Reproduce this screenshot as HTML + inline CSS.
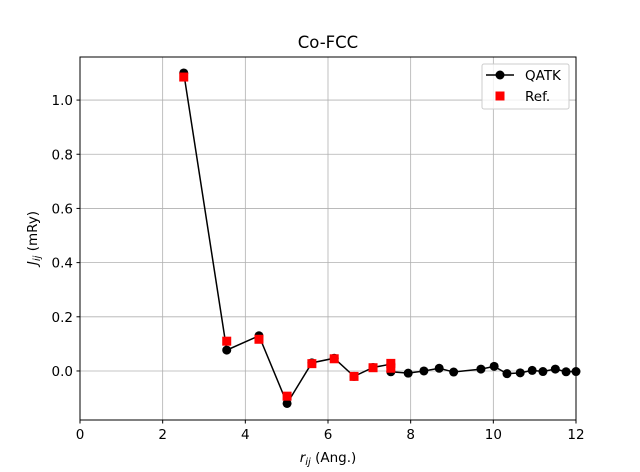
<!DOCTYPE html>
<html><head><meta charset="utf-8"><style>
body{margin:0;background:#fff;}
svg{display:block;font-family:"DejaVu Sans","Liberation Sans",sans-serif;}
</style></head><body>
<svg id="chart" width="640" height="472" viewBox="0 0 640 472">
<rect x="0" y="0" width="640" height="472" fill="#fff"/>
<text x="328" y="48" text-anchor="middle" font-size="16.5">Co-FCC</text>
<g id="grid"></g>
<g id="ticks"></g>
<g id="series"></g>
<rect x="80" y="57" width="496" height="363" fill="none" stroke="#000" stroke-width="1"/>
<text x="328" y="462" text-anchor="middle" font-size="13.5"><tspan font-style="italic">r</tspan><tspan font-style="italic" font-size="10" dy="3">ij</tspan><tspan dy="-3"> (Ang.)</tspan></text>
<text transform="translate(37,238) rotate(-90)" text-anchor="middle" font-size="13.5"><tspan font-style="italic">J</tspan><tspan font-style="italic" font-size="10" dy="3">ij</tspan><tspan dy="-3"> (mRy)</tspan></text>
<g>
<rect x="482" y="64" width="87" height="45" rx="2" fill="#fff" fill-opacity="0.8" stroke="#ccc"/>
<line x1="486" y1="75" x2="514" y2="75" stroke="#000" stroke-width="1.5"/>
<circle cx="500" cy="75" r="4.5" fill="#000"/>
<text x="525" y="80" font-size="13.5">QATK</text>
<rect x="495.5" y="91.5" width="9" height="9" fill="#f00"/>
<text x="525" y="101" font-size="13.5">Ref.</text>
</g>
</svg>
<script>
const qatkR = [2.51,3.55,4.33,5.01,5.61,6.15,6.63,7.09,7.52,7.52,7.94,8.32,8.69,9.04,9.70,10.02,10.33,10.65,10.94,11.20,11.50,11.76,12.00];
const qatkJ = [1.10,0.077,0.13,-0.12,0.03,0.047,-0.02,0.013,0.025,-0.003,-0.008,0.0,0.01,-0.004,0.007,0.017,-0.01,-0.007,0.002,-0.002,0.007,-0.003,-0.002];
const refR = [2.51,3.55,4.33,5.01,5.61,6.15,6.63,7.09,7.52,7.52];
const refJ = [1.085,0.11,0.117,-0.093,0.027,0.045,-0.02,0.012,0.028,0.01];
const xTicks = [0,2,4,6,8,10,12];
const yTicks = [0.0,0.2,0.4,0.6,0.8,1.0];
const yTickLabels = ["0.0","0.2","0.4","0.6","0.8","1.0"];
const NS="http://www.w3.org/2000/svg";
const X0=80,X1=576,XMIN=0,XMAX=12;
const YT=57,YB=420,YMIN=-0.181,YMAX=1.159;
function sx(v){return X0+(v-XMIN)/(XMAX-XMIN)*(X1-X0);}
function sy(v){return YB-(v-YMIN)/(YMAX-YMIN)*(YB-YT);}
function mk(t,a,p){const e=document.createElementNS(NS,t);for(const k in a)e.setAttribute(k,a[k]);p.appendChild(e);return e;}
const grid=document.getElementById('grid'),ticks=document.getElementById('ticks'),ser=document.getElementById('series');
xTicks.forEach(v=>{
 const g=mk('line',{x1:sx(v),x2:sx(v),y1:YT,y2:YB,stroke:'#b0b0b0','stroke-width':0.8},grid);
 
 
 mk('line',{x1:sx(v),x2:sx(v),y1:YB,y2:YB+3.5,stroke:'#000'},ticks);
 const t=mk('text',{x:sx(v),y:YB+19,'text-anchor':'middle','font-size':13.5},ticks);
 t.textContent=v;
 
 
});
yTicks.forEach((v,i)=>{
 const g=mk('line',{x1:X0,x2:X1,y1:sy(v),y2:sy(v),stroke:'#b0b0b0','stroke-width':0.8},grid);
 
 
 mk('line',{x1:X0-3.5,x2:X0,y1:sy(v),y2:sy(v),stroke:'#000'},ticks);
 const t=mk('text',{x:X0-7,y:sy(v)+5,'text-anchor':'end','font-size':13.5},ticks);
 t.textContent=yTickLabels[i];
 
 
});
const pl=mk('polyline',{points:qatkR.map((r,i)=>sx(r)+','+sy(qatkJ[i])).join(' '),fill:'none',stroke:'#000','stroke-width':1.5},ser);


qatkR.forEach((r,i)=>{
 const c=mk('circle',{cx:sx(r),cy:sy(qatkJ[i]),r:4.5,fill:'#000'},ser);
 
 
});
refR.forEach((r,i)=>{
 const s=mk('rect',{x:sx(r)-4.5,y:sy(refJ[i])-4.5,width:9,height:9,fill:'#f00'},ser);
 
 
});
</script>
</body></html>
